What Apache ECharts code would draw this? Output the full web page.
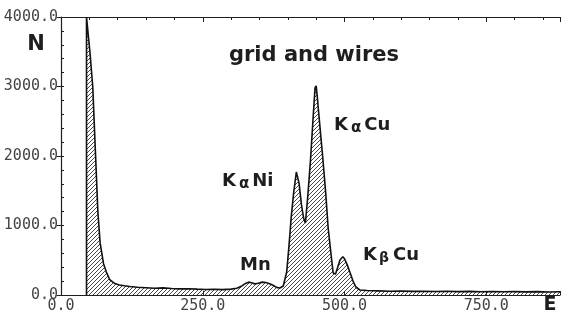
<!DOCTYPE html>
<html>
<head>
<meta charset="utf-8">
<script src="https://cdn.jsdelivr.net/npm/echarts@6/dist/echarts.min.js"></script>
<style>
  html, body { margin: 0; padding: 0; background: #fff; }
  #main { width: 563px; height: 318px; }
</style>
</head>
<body>
<div id="main"></div>
<script>
// spectrum: energy E and counts N
var energy = [45, 45, 47, 51, 56, 61, 65, 69, 75, 80, 86, 95, 103, 112, 121, 135, 150, 165, 180,
  195, 210, 225, 240, 255, 270, 285, 300, 310, 319, 325, 331, 336, 342, 348, 355, 361, 367, 374,
  380, 386, 392, 398, 402, 406, 410, 415, 417, 420, 424, 428, 431, 435, 440, 445, 448, 450, 452,
  454, 458, 462, 467, 471, 476, 480, 484, 488, 492, 497, 500, 505, 510, 515, 520, 527, 540, 560,
  580, 600, 620, 640, 660, 680, 700, 720, 740, 760, 780, 800, 820, 840, 860, 880];
var counts = [0, 4000, 4000, 3500, 3000, 2000, 1200, 750, 450, 330, 220, 165, 145, 132, 122, 112, 105, 98, 102,
  94, 88, 90, 84, 80, 82, 77, 84, 98, 130, 165, 185, 175, 160, 170, 185, 180, 165, 140,
  110, 100, 130, 330, 700, 1120, 1450, 1770, 1790, 1600, 1300, 1100, 1036, 1400, 1943, 2600, 2980, 3010, 2850,
  2662, 2300, 1943, 1450, 978, 600, 317, 300, 400, 504, 550, 520, 430, 317, 200, 115, 72, 65, 60,
  55, 58, 52, 55, 50, 53, 48, 52, 47, 50, 46, 49, 45, 48, 44, 46];

var xTicks = [0, 250, 500, 750];
var yTicks = [0, 1000, 2000, 3000, 4000];

var spectrum = energy.map(function (e, i) { return [e, counts[i]]; });

// diagonal hatch
var hatch = document.createElement('canvas');
hatch.width = 4; hatch.height = 4;
var hc = hatch.getContext('2d');
hc.strokeStyle = '#333';
hc.lineWidth = 0.9;
hc.beginPath();
hc.moveTo(0, 4); hc.lineTo(4, 0);
hc.moveTo(-1, 1); hc.lineTo(1, -1);
hc.moveTo(3, 5); hc.lineTo(5, 3);
hc.stroke();

var labFont = 'DejaVu Sans Mono';
var boldFont = 'DejaVu Sans';
var ink = '#1e1e1e';

var chart = echarts.init(document.getElementById('main'));
chart.setOption({
  animation: false,
  grid: { left: 61, right: 0, top: 17, bottom: 23 },
  xAxis: [
    {
      type: 'value', min: 0, max: 880, interval: 250,
      axisLine: { show: true, onZero: false, lineStyle: { color: ink, width: 1.2 } },
      axisTick: { show: true, inside: true, length: 4, lineStyle: { color: ink } },
      splitLine: { show: false },
      axisLabel: {
        color: '#444', fontFamily: labFont, fontSize: 15, margin: 4,
        formatter: function (v) { return xTicks.indexOf(v) >= 0 ? v.toFixed(1) : ''; }
      }
    },
    {
      type: 'value', position: 'top', min: 0, max: 880, interval: 250,
      axisLine: { show: true, onZero: false, lineStyle: { color: ink, width: 1.2 } },
      axisTick: { show: true, inside: true, length: 5, lineStyle: { color: ink } },
      minorTick: { show: true, splitNumber: 5, length: 3, lineStyle: { color: ink } },
      splitLine: { show: false },
      axisLabel: { show: false }
    }
  ],
  yAxis: [
    {
      type: 'value', min: 0, max: 4000, interval: 1000,
      axisLine: { show: true, onZero: false, lineStyle: { color: ink, width: 1.2 } },
      axisTick: { show: true, inside: false, length: 4, lineStyle: { color: ink } },
      splitLine: { show: false },
      axisLabel: {
        color: '#444', fontFamily: labFont, fontSize: 15, margin: 3,
        formatter: function (v) { return yTicks.indexOf(v) >= 0 ? v.toFixed(1) : ''; }
      }
    },
    {
      type: 'value', position: 'left', offset: 0, min: 0, max: 4000, interval: 200,
      axisLine: { show: false, onZero: false },
      axisTick: { show: true, inside: true, length: 3, lineStyle: { color: ink } },
      splitLine: { show: false },
      axisLabel: { show: false }
    }
  ],
  graphic: [
    { type: 'text', x: 36, y: 45, style: { text: 'N', font: 'bold 21px ' + boldFont, fill: ink, textAlign: 'center', textVerticalAlign: 'middle' } },
    { type: 'text', x: 550, y: 305, style: { text: 'E', font: 'bold 19px ' + boldFont, fill: ink, textAlign: 'center', textVerticalAlign: 'middle' } },
    { type: 'text', x: 314, y: 56, style: { text: 'grid and wires', font: 'bold 21px ' + boldFont, fill: ink, textAlign: 'center', textVerticalAlign: 'middle' } },
    { type: 'text', x: 222, y: 181, style: {
      text: '{k|K}{g|α}{k|Ni}', textVerticalAlign: 'middle',
      rich: { k: { font: 'bold 18px ' + boldFont, fill: ink }, g: { font: 'bold 15px ' + boldFont, fill: ink, padding: [6, 3, 0, 3] } }
    } },
    { type: 'text', x: 334, y: 125, style: {
      text: '{k|K}{g|α}{k|Cu}', textVerticalAlign: 'middle',
      rich: { k: { font: 'bold 18px ' + boldFont, fill: ink }, g: { font: 'bold 15px ' + boldFont, fill: ink, padding: [6, 3, 0, 3] } }
    } },
    { type: 'text', x: 240, y: 265, style: { text: 'Mn', font: 'bold 18px ' + boldFont, fill: ink, textVerticalAlign: 'middle' } },
    { type: 'text', x: 363, y: 255, style: {
      text: '{k|K}{g|β}{k|Cu}', textVerticalAlign: 'middle',
      rich: { k: { font: 'bold 18px ' + boldFont, fill: ink }, g: { font: 'bold 14px ' + boldFont, fill: ink, padding: [6, 4, 0, 2] } }
    } }
  ],
  series: [
    {
      type: 'line',
      xAxisIndex: 0, yAxisIndex: 0,
      data: spectrum,
      symbol: 'none',
      clip: true,
      lineStyle: { color: '#111', width: 1.6 },
      areaStyle: { color: { image: hatch, repeat: 'repeat' }, opacity: 1 }
    }
  ]
});
</script>
</body>
</html>
